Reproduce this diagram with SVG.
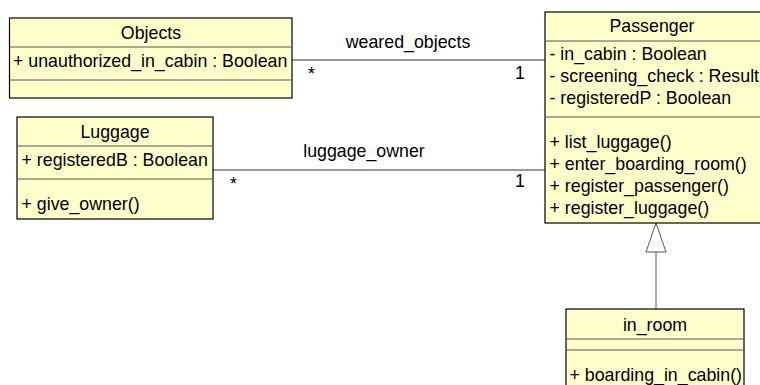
<svg xmlns="http://www.w3.org/2000/svg" width="760" height="385" viewBox="0 0 760 385">
<style>
.box{fill:#FFFFCC;stroke:#000;stroke-width:1.2}
.sep{stroke:#555;stroke-width:1}
text{font-family:"Liberation Sans",Arial,sans-serif;font-size:17.8px;fill:#000}
.c{text-anchor:middle}
.conn{stroke:#333;stroke-width:1;fill:none}
.gen{stroke:#555;stroke-width:1;fill:#fff}
</style>
<rect width="760" height="385" fill="#fff"/>
<g id="connectors">
<line class="conn" x1="292" y1="60" x2="545" y2="60"/>
<text class="c" x="408" y="48">weared_objects</text>
<text x="308" y="80">*</text>
<text x="515" y="79">1</text>
<line class="conn" x1="213" y1="170" x2="545" y2="170"/>
<text class="c" x="364" y="157">luggage_owner</text>
<text x="230" y="190">*</text>
<text x="515" y="187">1</text>
<line class="gen" x1="656" y1="309" x2="656" y2="252"/>
<polygon class="gen" points="656,223 666,252 646,252"/>
</g>
<g id="Objects">
<rect class="box" x="9.5" y="18" width="282.5" height="80"/>
<line class="sep" x1="9.5" y1="47" x2="292" y2="47"/>
<line class="sep" x1="9.5" y1="80" x2="292" y2="80"/>
<text class="c" x="151" y="39">Objects</text>
<text x="13" y="67">+ unauthorized_in_cabin : Boolean</text>
</g>
<g id="Luggage">
<rect class="box" x="17" y="117" width="196" height="102"/>
<line class="sep" x1="17" y1="146" x2="213" y2="146"/>
<line class="sep" x1="17" y1="179" x2="213" y2="179"/>
<text class="c" x="115" y="138">Luggage</text>
<text x="21.5" y="166">+ registeredB : Boolean</text>
<text x="21.5" y="210">+ give_owner()</text>
</g>
<g id="Passenger">
<rect class="box" x="545" y="12" width="230" height="211"/>
<line class="sep" x1="545" y1="41" x2="775" y2="41"/>
<line class="sep" x1="545" y1="117" x2="775" y2="117"/>
<text class="c" x="652" y="32">Passenger</text>
<text x="549.5" y="60">- in_cabin : Boolean</text>
<text x="549.5" y="82">- screening_check : Result</text>
<text x="549.5" y="104">- registeredP : Boolean</text>
<text x="549.5" y="148">+ list_luggage()</text>
<text x="549.5" y="170">+ enter_boarding_room()</text>
<text x="549.5" y="192">+ register_passenger()</text>
<text x="549.5" y="214">+ register_luggage()</text>
</g>
<g id="in_room">
<rect class="box" x="566" y="309" width="178" height="90"/>
<line class="sep" x1="566" y1="339" x2="744" y2="339"/>
<line class="sep" x1="566" y1="350" x2="744" y2="350"/>
<text class="c" x="655" y="331">in_room</text>
<text x="569.5" y="381">+ boarding_in_cabin()</text>
</g>
</svg>
